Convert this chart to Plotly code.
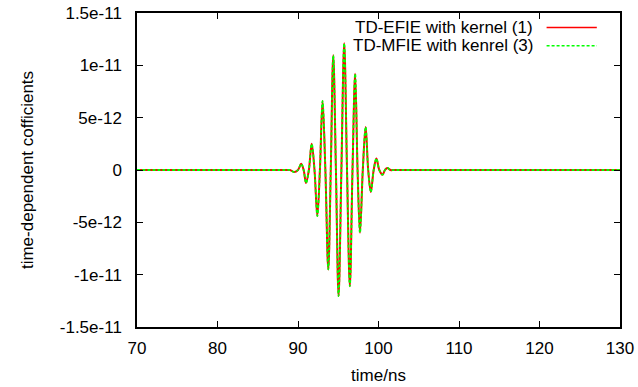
import plotly.graph_objects as go

# time in ns
t_ns = [70, 88.5, 89.0, 89.55, 90.0, 90.4, 90.7, 91.0, 91.35, 91.7, 92.05, 92.4, 92.72,
        93.05, 93.4, 93.76, 94.07, 94.38, 94.71, 95.04, 95.39, 95.74, 96.09, 96.44,
        96.77, 97.1, 97.4, 97.7, 98.05, 98.4, 98.72, 99.05, 99.4, 99.74, 100.1, 100.5,
        100.8, 101.1, 101.5, 102.0, 130]
# coefficient values in units of 1e-12
efie_e12 = [0, 0, 0, -0.2, 0, 0.6, 0, -1.25, 0, 2.5, 0, -4.4, 0,
            6.6, 0, -9.5, 0, 10.96, 0, -12.05, 0, 12.1, 0, -11.1,
            0, 9.2, 0, -6.0, 0, 4.1, 0, -2.1, 0, 1.1, 0, -0.45,
            0, 0.2, 0, 0, 0]
mfie_e12 = [0, 0, 0, -0.2, 0, 0.6, 0, -1.25, 0, 2.5, 0, -4.4, 0,
            6.6, 0, -9.5, 0, 10.96, 0, -12.05, 0, 12.1, 0, -11.1,
            0, 9.2, 0, -6.0, 0, 4.1, 0, -2.1, 0, 1.1, 0, -0.45,
            0, 0.2, 0, 0, 0]

series_names = ["TD-EFIE with kernel (1)", "TD-MFIE with kenrel (3)"]
x_ticks = [70, 80, 90, 100, 110, 120, 130]
y_tickvals = [1.5e-11, 1e-11, 5e-12, 0, -5e-12, -1e-11, -1.5e-11]
y_ticktext = ["1.5e-11", "1e-11", "5e-12", "0", "-5e-12", "-1e-11", "-1.5e-11"]

font_family = "Liberation Sans, Arial, Helvetica, sans-serif"
FS = 17

fig = go.Figure()
fig.add_trace(go.Scatter(
    x=t_ns, y=[v * 1e-12 for v in efie_e12], mode="lines", name=series_names[0],
    line=dict(color="#ff0000", width=2, shape="spline", smoothing=1.0),
))
fig.add_trace(go.Scatter(
    x=t_ns, y=[v * 1e-12 for v in mfie_e12], mode="lines", name=series_names[1],
    line=dict(color="#00ff00", width=1.8, dash="3px,2px", shape="spline", smoothing=1.0),
))

axis_common = dict(
    showline=True, linecolor="black", linewidth=1.5, mirror="ticks",
    ticks="inside", ticklen=6, tickcolor="black", tickwidth=1,
    showgrid=False, zeroline=False, automargin=False,
    tickfont=dict(family=font_family, size=FS, color="black"),
)

fig.update_layout(
    width=638, height=387,
    margin=dict(l=137, r=18, t=13, b=60),
    plot_bgcolor="white", paper_bgcolor="white",
    showlegend=False,
    font=dict(family=font_family, size=FS, color="black"),
    xaxis=dict(range=[70, 130], tickvals=x_ticks, ticklabelstandoff=5,
               title=dict(text="time/ns", font=dict(size=FS), standoff=12),
               **axis_common),
    yaxis=dict(range=[-1.5e-11, 1.5e-11], tickvals=y_tickvals, ticktext=y_ticktext,
               ticklabelstandoff=10,
               title=dict(text="time-dependent cofficients", font=dict(size=FS), standoff=22),
               **axis_common),
)

# gnuplot-style key: text right-aligned, sample line to the right
key_rows = [(0.954, "#ff0000", "solid"), (0.896, "#00ff00", "3px,2px")]
for (yp, col, dash), name in zip(key_rows, series_names):
    fig.add_annotation(xref="paper", yref="paper", x=0.825, y=yp, text=name,
                       showarrow=False, xanchor="right", yanchor="middle",
                       font=dict(family=font_family, size=FS, color="black"))
    fig.add_shape(type="line", xref="paper", yref="paper", x0=0.848, x1=0.952,
                  y0=yp, y1=yp, line=dict(color=col, width=1.5, dash=dash))

fig.write_html("out.html")
